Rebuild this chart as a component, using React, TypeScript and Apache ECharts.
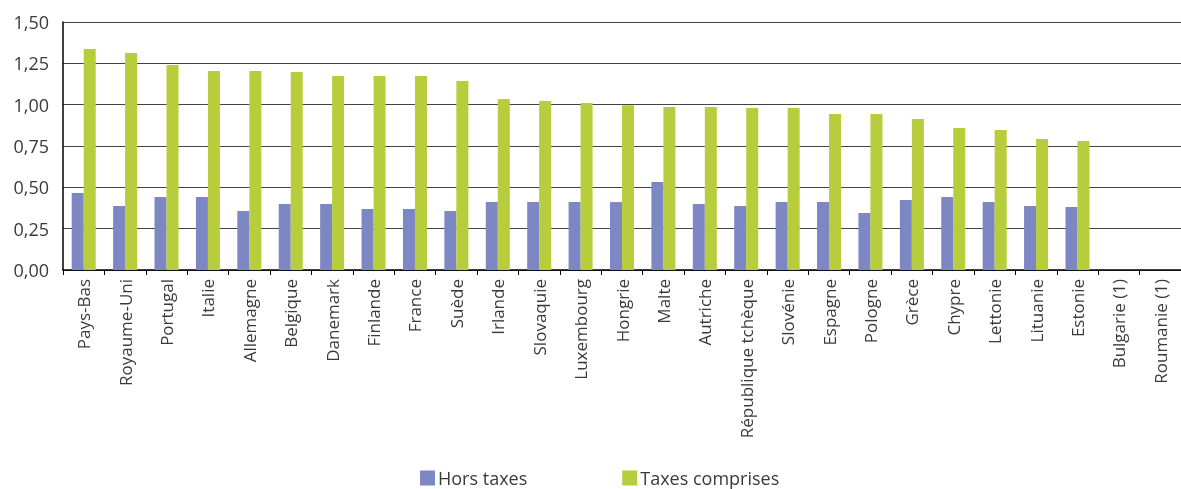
import React, { useEffect, useRef } from "react";
import * as echarts from "echarts";

const categories = [
  "Pays-Bas", "Royaume-Uni", "Portugal", "Italie", "Allemagne", "Belgique", "Danemark",
  "Finlande", "France", "Suède", "Irlande", "Slovaquie", "Luxembourg", "Hongrie", "Malte",
  "Autriche", "République tchèque", "Slovénie", "Espagne", "Pologne", "Grèce", "Chypre",
  "Lettonie", "Lituanie", "Estonie", "Bulgarie (1)", "Roumanie (1)",
];

const horsTaxes = [
  0.466, 0.387, 0.442, 0.442, 0.357, 0.399, 0.399, 0.369, 0.369, 0.357, 0.411, 0.411,
  0.411, 0.411, 0.532, 0.399, 0.387, 0.411, 0.411, 0.345, 0.423, 0.442, 0.411, 0.387,
  0.381, null, null,
];

const taxesComprises = [
  1.337, 1.313, 1.24, 1.204, 1.204, 1.198, 1.174, 1.174, 1.174, 1.143, 1.034, 1.022,
  1.01, 0.996, 0.986, 0.986, 0.98, 0.98, 0.944, 0.944, 0.913, 0.859, 0.847, 0.792,
  0.78, null, null,
];

const seriesNames = ["Hors taxes", "Taxes comprises"];
const yTicks = { min: 0, max: 1.5, interval: 0.25 };

export default function App() {
  const ref = useRef<HTMLDivElement>(null);
  useEffect(() => {
    if (!ref.current) return;
    const chart = echarts.init(ref.current, null, { renderer: "svg" });
    const font = "'Open Sans', sans-serif";
    chart.setOption({
      animation: false,
      legend: {
        left: 420,
        top: 469,
        padding: 0,
        itemWidth: 15,
        itemHeight: 15,
        itemGap: 95,
        icon: "rect",
        textStyle: {
          fontFamily: font,
          fontSize: 18,
          lineHeight: 18,
          color: "#3a3a3a",
          padding: [0, 0, 0, -2],
        },
        data: seriesNames,
      },
      grid: { left: 63, top: 22, width: 1130, height: 248, containLabel: false },
      xAxis: {
        type: "category",
        data: categories,
        axisLine: { lineStyle: { color: "#000", width: 1.5 } },
        axisTick: { show: true, length: 5, lineStyle: { color: "#000" } },
        axisLabel: {
          rotate: 90,
          interval: 0,
          margin: 9,
          fontFamily: font,
          fontSize: 17,
          color: "#3a3a3a",
        },
      },
      yAxis: {
        type: "value",
        min: yTicks.min,
        max: yTicks.max,
        interval: yTicks.interval,
        axisLine: { show: true, lineStyle: { color: "#000", width: 1.5 } },
        axisTick: { show: false },
        splitLine: { lineStyle: { color: "#444", width: 1.2 } },
        axisLabel: {
          margin: 14,
          fontFamily: font,
          fontSize: 18,
          color: "#3a3a3a",
          formatter: (v: number) => v.toFixed(2).replace(".", ","),
        },
      },
      series: [
        {
          name: seriesNames[0],
          type: "bar",
          data: horsTaxes,
          barWidth: 12,
          barGap: "0%",
          itemStyle: { color: "#7c87c3" },
        },
        {
          name: seriesNames[1],
          type: "bar",
          data: taxesComprises,
          barWidth: 12,
          itemStyle: { color: "#b7cd3b" },
        },
      ],
    });
    return () => chart.dispose();
  }, []);
  return (
    <div
      ref={ref}
      style={{ position: "fixed", left: 0, top: 0, width: 1181, height: 489, overflow: "hidden" }}
    />
  );
}
